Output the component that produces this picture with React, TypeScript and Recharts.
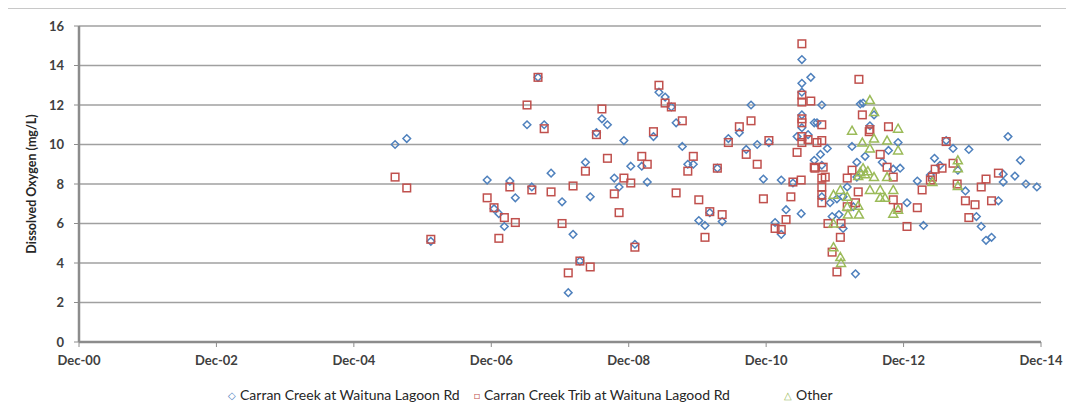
import { ScatterChart, Scatter, XAxis, YAxis, CartesianGrid } from 'recharts'

// decimal year, mg/L
const carranCreek: [number, number][] = [
  [2005.52, 10.0], [2005.69, 10.3], [2006.04, 5.1], [2006.86, 8.2], [2006.96, 6.75],
  [2007.03, 6.5], [2007.11, 5.85], [2007.19, 8.15], [2007.27, 7.3], [2007.44, 11.0],
  [2007.51, 7.85], [2007.6, 13.4], [2007.69, 11.0], [2007.79, 8.55], [2007.95, 7.1],
  [2008.04, 2.5], [2008.11, 5.45], [2008.21, 4.1], [2008.29, 9.1], [2008.36, 7.35],
  [2008.45, 10.6], [2008.53, 11.3], [2008.61, 11.0], [2008.71, 8.3], [2008.78, 7.85],
  [2008.85, 10.2], [2008.95, 8.9], [2009.01, 4.95], [2009.11, 8.9], [2009.19, 8.1],
  [2009.28, 10.4], [2009.36, 12.65], [2009.45, 12.4], [2009.54, 11.9], [2009.61, 11.1],
  [2009.7, 9.9], [2009.78, 9.0], [2009.86, 9.0], [2009.94, 6.15], [2010.03, 5.9],
  [2010.1, 6.55], [2010.21, 8.8], [2010.28, 6.1], [2010.37, 10.3], [2010.53, 10.6],
  [2010.63, 9.75], [2010.7, 12.0], [2010.79, 10.0], [2010.88, 8.25], [2010.96, 10.1],
  [2011.05, 6.05], [2011.14, 8.2], [2011.14, 5.45], [2011.21, 6.7], [2011.31, 8.05],
  [2011.37, 10.4], [2011.43, 6.5], [2011.44, 14.3], [2011.44, 13.1], [2011.44, 12.65],
  [2011.44, 11.5], [2011.44, 10.85], [2011.53, 10.5], [2011.57, 13.4], [2011.62, 11.1],
  [2011.62, 9.2], [2011.66, 11.1], [2011.73, 12.0], [2011.71, 9.5], [2011.81, 9.8],
  [2011.73, 8.95], [2011.73, 7.35], [2011.85, 7.05], [2011.88, 6.35], [2011.98, 6.45],
  [2012.04, 5.75], [2012.04, 7.35], [2011.95, 7.25], [2012.1, 7.85], [2012.17, 9.9],
  [2012.19, 6.85], [2012.22, 3.45], [2012.24, 9.1], [2012.24, 8.35], [2012.29, 8.55],
  [2012.29, 12.05], [2012.33, 12.1], [2012.36, 9.4], [2012.43, 10.95], [2012.49, 11.5],
  [2012.61, 9.1], [2012.7, 9.7], [2012.77, 8.75], [2012.84, 10.1], [2012.87, 8.8],
  [2012.97, 7.05], [2013.12, 8.15], [2013.21, 5.9], [2013.31, 8.45], [2013.37, 9.3],
  [2013.45, 8.95], [2013.54, 10.2], [2013.64, 9.8], [2013.71, 8.7], [2013.82, 7.65],
  [2013.87, 9.75], [2013.98, 6.35], [2014.05, 5.85], [2014.12, 5.15], [2014.2, 5.3],
  [2014.3, 7.15], [2014.37, 8.5], [2014.37, 8.1], [2014.44, 10.4], [2014.54, 8.4],
  [2014.62, 9.2], [2014.7, 8.0], [2014.86, 7.85],
]

const carranTrib: [number, number][] = [
  [2005.52, 8.35], [2005.69, 7.8], [2006.04, 5.2], [2006.86, 7.3], [2006.96, 6.8],
  [2007.11, 6.3], [2007.03, 5.25], [2007.19, 7.85], [2007.27, 6.05], [2007.44, 12.0],
  [2007.6, 13.4], [2007.69, 10.8], [2007.51, 7.7], [2007.79, 7.6], [2007.95, 6.0],
  [2008.04, 3.5], [2008.11, 7.9], [2008.21, 4.1], [2008.36, 3.8], [2008.29, 8.65],
  [2008.53, 11.8], [2008.45, 10.5], [2008.61, 9.3], [2008.85, 8.3], [2008.71, 7.5],
  [2008.78, 6.55], [2008.95, 8.05], [2009.01, 4.8], [2009.11, 9.4], [2009.19, 9.0],
  [2009.28, 10.65], [2009.36, 13.0], [2009.45, 12.1], [2009.54, 11.9], [2009.7, 11.2],
  [2009.61, 7.55], [2009.86, 9.4], [2009.78, 8.65], [2010.21, 8.8], [2009.94, 7.2],
  [2010.1, 6.6], [2010.28, 6.45], [2010.03, 5.3], [2010.53, 10.9], [2010.37, 10.1],
  [2010.63, 9.5], [2010.7, 11.2], [2010.96, 10.2], [2010.79, 9.0], [2010.88, 7.25],
  [2011.28, 7.35], [2011.31, 8.1], [2011.43, 8.2], [2011.21, 6.2], [2011.05, 5.75],
  [2011.14, 5.7], [2011.44, 15.1], [2011.44, 12.5], [2011.44, 12.15], [2011.57, 12.2],
  [2011.44, 11.3], [2011.44, 11.1], [2011.44, 10.4], [2011.44, 10.1], [2011.53, 10.25],
  [2011.37, 9.6], [2011.62, 8.85], [2012.27, 13.3], [2012.32, 11.5], [2011.73, 11.0],
  [2011.66, 10.1], [2011.73, 10.2], [2012.42, 10.65], [2011.63, 8.8], [2011.75, 8.85],
  [2012.17, 8.7], [2011.78, 8.35], [2011.73, 8.3], [2011.73, 7.85], [2011.73, 7.45],
  [2011.73, 7.05], [2012.1, 8.3], [2012.26, 7.6], [2012.1, 6.85], [2012.22, 7.05],
  [2011.82, 6.0], [2012.01, 6.0], [2012.0, 5.3], [2011.88, 4.55], [2011.95, 3.55],
  [2012.43, 10.75], [2012.7, 10.9], [2012.58, 9.5], [2012.68, 8.85], [2012.77, 8.35],
  [2012.77, 7.2], [2012.84, 6.8], [2013.12, 6.8], [2012.97, 5.85], [2013.19, 7.7],
  [2013.31, 8.2], [2013.54, 10.15], [2013.38, 8.75], [2013.48, 8.8], [2013.34, 8.35],
  [2013.64, 9.05], [2013.7, 8.0], [2014.3, 8.55], [2014.12, 8.25], [2014.05, 7.85],
  [2013.82, 7.15], [2013.96, 6.95], [2014.2, 7.15], [2013.87, 6.3],
]

const other: [number, number][] = [
  [2012.17, 10.7], [2012.32, 10.1], [2012.43, 12.25], [2012.49, 11.65], [2012.49, 10.3],
  [2012.68, 10.2], [2012.84, 10.8], [2012.43, 9.8], [2012.84, 9.7], [2012.26, 8.4],
  [2012.29, 8.6], [2012.33, 8.8], [2012.36, 8.5], [2012.4, 8.65], [2012.49, 8.35],
  [2012.68, 8.35], [2012.0, 7.7], [2011.9, 7.45], [2012.1, 7.35], [2012.1, 6.85],
  [2012.26, 6.9], [2012.11, 6.45], [2012.27, 6.45], [2011.9, 6.0], [2011.9, 4.8],
  [2012.0, 4.3], [2012.01, 4.0], [2012.43, 7.7], [2012.58, 7.7], [2012.77, 7.7],
  [2012.58, 7.3], [2012.65, 7.3], [2012.77, 6.5], [2012.84, 6.7], [2013.34, 8.1],
  [2013.71, 9.2], [2013.71, 8.8], [2013.71, 7.9],
]

const xTicks = [2000.92, 2002.92, 2004.92, 2006.92, 2008.92, 2010.92, 2012.92, 2014.92]
const xTickLabels = ['Dec-00', 'Dec-02', 'Dec-04', 'Dec-06', 'Dec-08', 'Dec-10', 'Dec-12', 'Dec-14']
const yTicks = [0, 2, 4, 6, 8, 10, 12, 14, 16]

const BLUE = '#4F81BD'
const RED = '#C0504D'
const GREEN = '#9BBB59'

const toPoints = (arr: [number, number][]) => arr.map(([x, y]) => ({ x, y }))

const Diamond = (p: any) => (
  <path d={`M${p.cx},${p.cy - 3.8}L${p.cx + 3.8},${p.cy}L${p.cx},${p.cy + 3.8}L${p.cx - 3.8},${p.cy}Z`}
    fill="none" stroke={BLUE} strokeWidth={1.5} />
)
const Square = (p: any) => (
  <rect x={p.cx - 3.8} y={p.cy - 3.8} width={7.6} height={7.6} fill="none" stroke={RED} strokeWidth={1.5} />
)
const Triangle = (p: any) => (
  <path d={`M${p.cx},${p.cy - 4.5}L${p.cx + 4.5},${p.cy + 3.5}L${p.cx - 4.5},${p.cy + 3.5}Z`}
    fill="none" stroke={GREEN} strokeWidth={1.5} />
)

// legend entries; left = x of marker in the picture
const legendItems = [
  { label: 'Carran Creek at Waituna Lagoon Rd', color: BLUE, mark: '\u25C7', left: 228 },
  { label: 'Carran Creek Trib at Waituna Lagood Rd', color: RED, mark: '\u25A1', left: 474 },
  { label: 'Other', color: GREEN, mark: '\u25B3', left: 784 },
]

const tickStyle = { fontSize: 13, fontWeight: 700, fill: '#404040', fontFamily: 'Lato' }

export default function App() {
  return (
    <div style={{ position: 'relative', width: 1074, height: 416, margin: -8, background: '#fff', fontFamily: 'Lato', overflow: 'hidden' }}>
      <ScatterChart width={1074} height={416} margin={{ top: 26, right: 33, bottom: 44, left: 39 }}>
        <CartesianGrid horizontal vertical={false} stroke="#a0a0a0" strokeWidth={1.5} />
        <XAxis
          type="number"
          dataKey="x"
          domain={[xTicks[0], xTicks[xTicks.length - 1]]}
          ticks={xTicks}
          tickFormatter={(v: number) => xTickLabels[xTicks.indexOf(v)]}
          tick={tickStyle}
          axisLine={{ stroke: '#8c8c8c', strokeWidth: 2.5 }}
          tickLine={{ stroke: '#8c8c8c' }}
          tickSize={5}
          tickMargin={9}
          height={30}
        />
        <YAxis
          type="number"
          dataKey="y"
          domain={[0, 16]}
          ticks={yTicks}
          tick={tickStyle}
          axisLine={{ stroke: '#8c8c8c', strokeWidth: 2.5 }}
          tickLine={{ stroke: '#8c8c8c' }}
          tickSize={5}
          tickMargin={10}
          width={40}
          label={{
            value: 'Dissolved Oxygen (mg/L)', angle: -90, position: 'left', offset: 7,
            style: { textAnchor: 'middle', fontSize: 12.5, fontWeight: 700, fill: '#262626', fontFamily: 'Lato' },
          }}
        />
        <Scatter name="Carran Creek at Waituna Lagoon Rd" data={toPoints(carranCreek)} shape={Diamond} isAnimationActive={false} />
        <Scatter name="Carran Creek Trib at Waituna Lagood Rd" data={toPoints(carranTrib)} shape={Square} isAnimationActive={false} />
        <Scatter name="Other" data={toPoints(other)} shape={Triangle} isAnimationActive={false} />
      </ScatterChart>
      {legendItems.map(it => (
        <div key={it.label} style={{ position: 'absolute', top: 386, left: it.left, display: 'flex', alignItems: 'center', gap: 4, fontSize: 14, color: '#262626', whiteSpace: 'nowrap' }}>
          <span style={{ color: it.color, fontSize: 10 }}>{it.mark}</span>
          {it.label}
        </div>
      ))}
      <div style={{ position: 'absolute', left: 3, top: 8, width: 1067, height: 420, border: '1px solid #c8c8c8', pointerEvents: 'none' }} />
    </div>
  )
}
